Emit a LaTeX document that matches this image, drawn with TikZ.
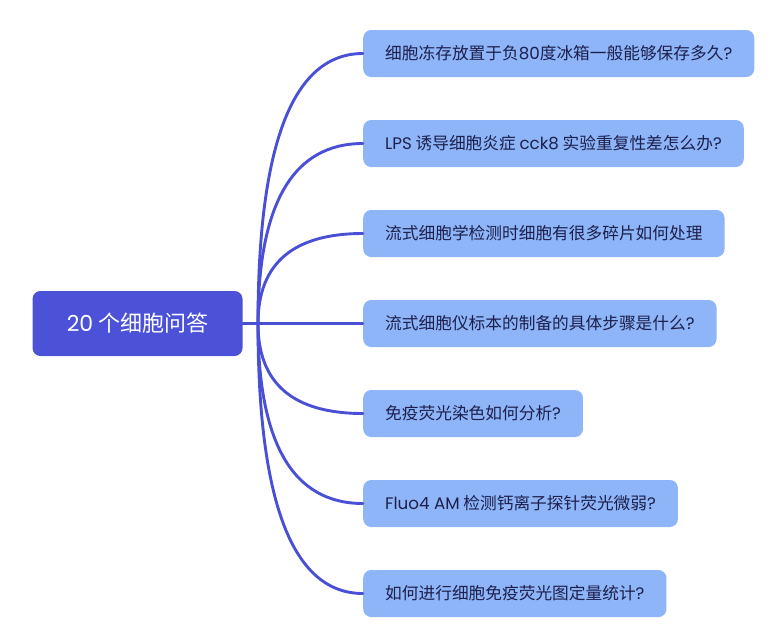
\documentclass[tikz,border=0pt]{standalone}
\usepackage{fontspec}
\setmainfont{Noto Sans CJK SC}
\newfontfamily\latfont{Poppins}
\newcommand\lat[1]{{\latfont #1}}
\usepackage{tikz}
\usetikzlibrary{calc,positioning}
\definecolor{rootblue}{HTML}{4B52D8}
\definecolor{linkblue}{HTML}{4A50D6}
\definecolor{qfill}{HTML}{8DB5F8}
\definecolor{qtext}{HTML}{1E1F4C}

\begin{document}
\begin{tikzpicture}[x=1pt,y=-1pt,line cap=round,line join=round,
                rootbox/.style={fill=rootblue,rounded corners=8pt,minimum width=210pt,
                  minimum height=65pt,text=white,font=\fontsize{22}{26}\selectfont},
                qbox/.style={fill=qfill,rounded corners=8pt,minimum height=47pt,
                  inner xsep=22pt,text=qtext,font=\fontsize{16.7}{20}\selectfont,anchor=west},
                link/.style={draw=linkblue,line width=2.9pt}]
            \useasboundingbox (0,0) rectangle (775,643);
            \node [rootbox] (root) at (137.5,323.5) {\lat{20} 个细胞问答};
            \coordinate (fork) at (258,323.5);
            \draw [link] (root.east) -- (fork);
            \foreach \t [count=\i] in {细胞冻存放置于负\lat{80}度冰箱一般能够保存多久\lat{?},
                \lat{LPS} 诱导细胞炎症 \lat{cck8} 实验重复性差怎么办\lat{?},
                流式细胞学检测时细胞有很多碎片如何处理,
                流式细胞仪标本的制备的具体步骤是什么\lat{?},
                免疫荧光染色如何分析\lat{?},
                \lat{Fluo4 AM} 检测钙离子探针荧光微弱\lat{?},
                如何进行细胞免疫荧光图定量统计\lat{?}}
            {
                \node [qbox] (q\i) at (363,{53.5+90*(\i-1)}) {\t};
                \draw [link] (fork) .. controls ($(fork)!2/3!(fork |- q\i.west)$)
                    and ($(q\i.west)!2/3!(fork |- q\i.west)$) .. (q\i.west);
            }
        \end{tikzpicture}
\end{document}
